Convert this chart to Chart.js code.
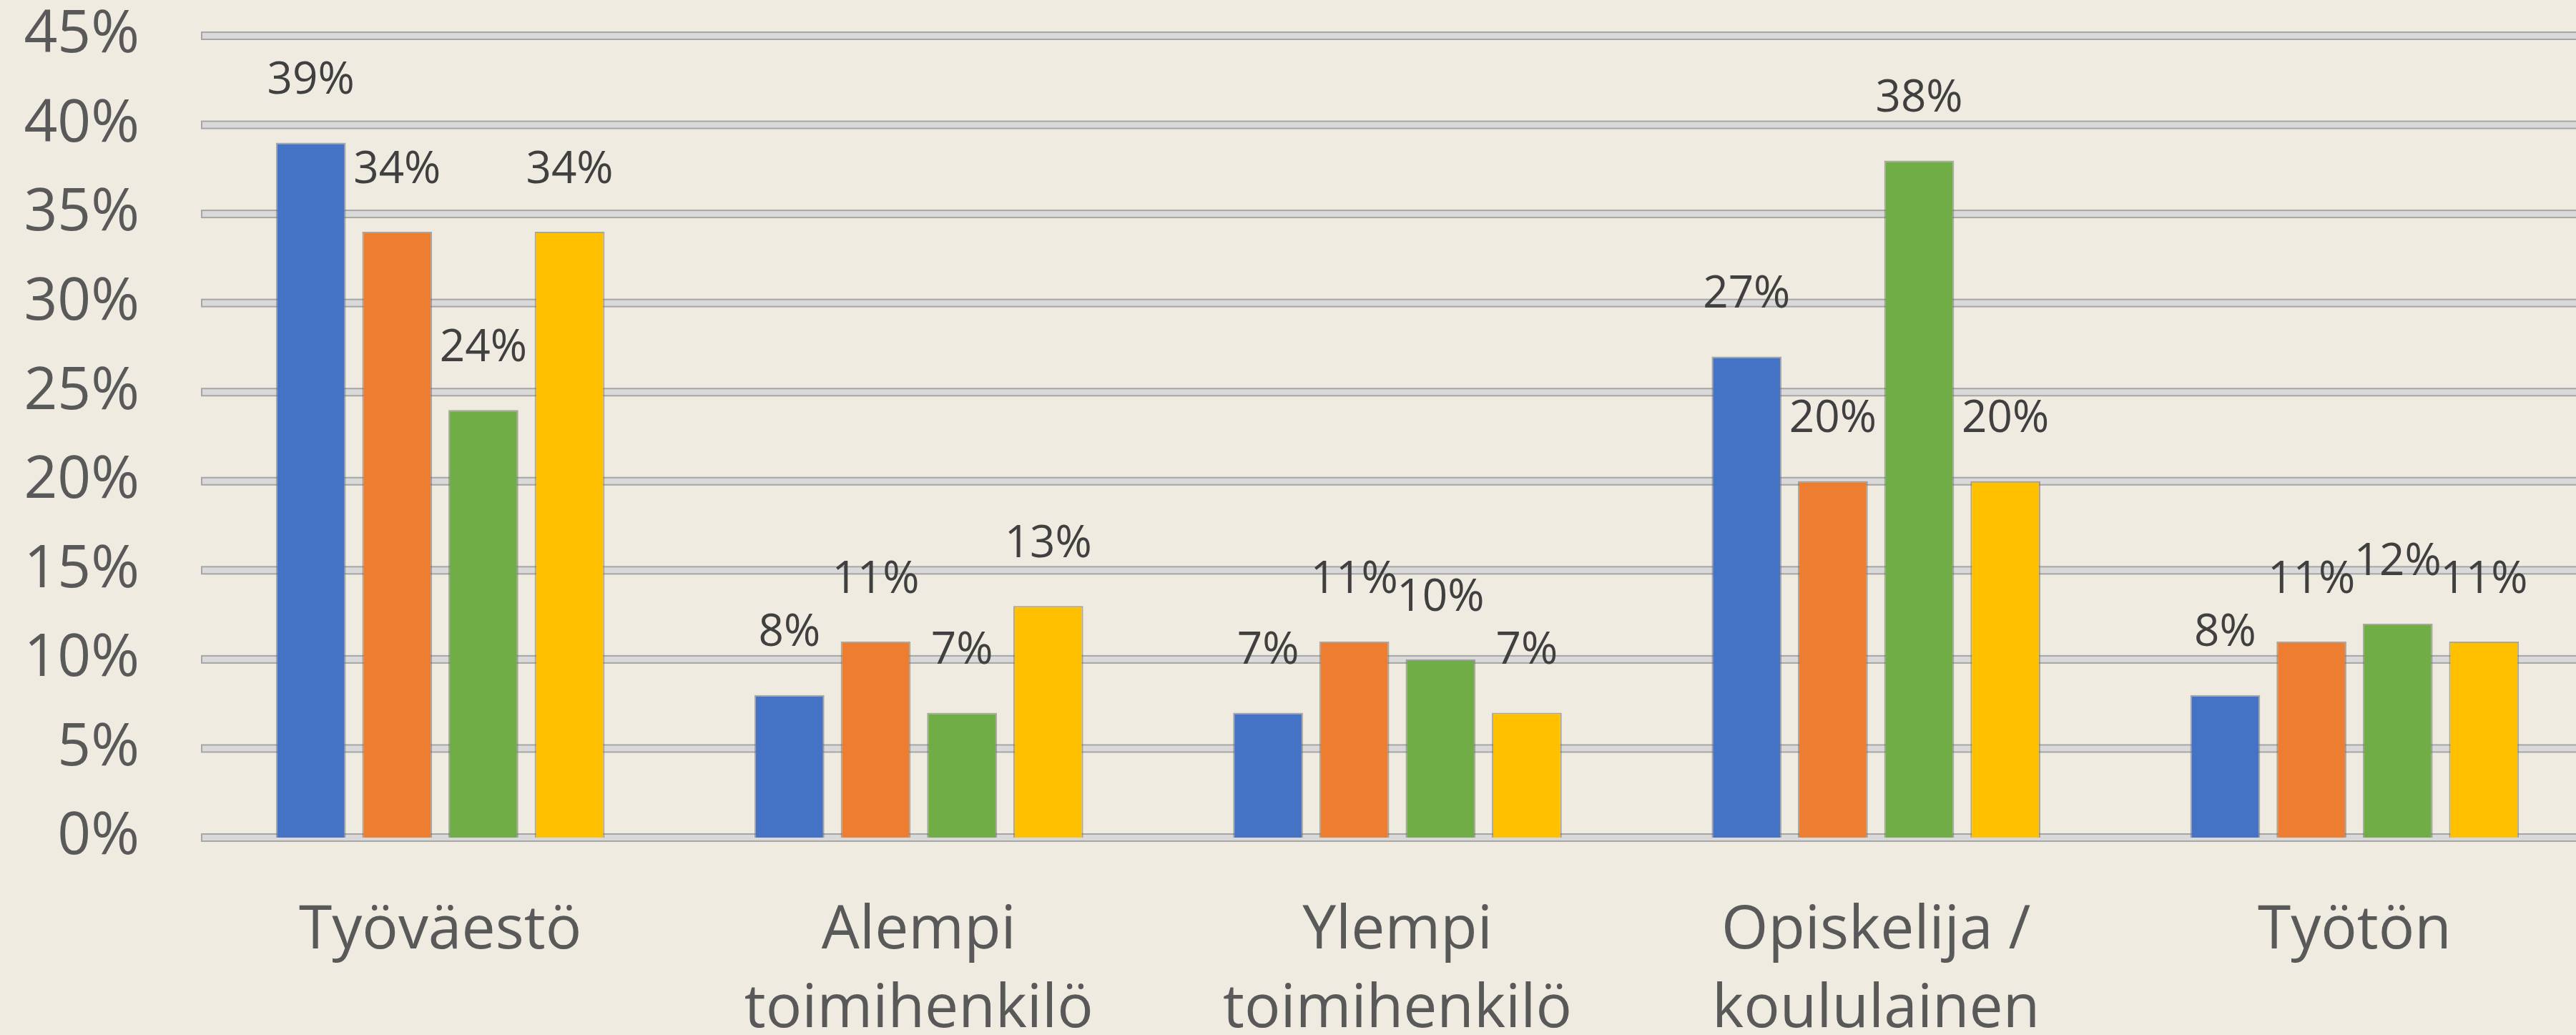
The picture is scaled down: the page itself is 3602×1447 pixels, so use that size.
<!DOCTYPE html>
<html>
<head>
<meta charset="utf-8">
<script src="https://cdn.jsdelivr.net/npm/chart.js@4"></script>
<style>
  html, body { margin: 0; padding: 0; background: #efebe0; overflow: hidden; }
  #wrap { width: 3630px; height: 1470px; }
</style>
</head>
<body>
<div id="wrap"><canvas id="myBarChart" width="3630" height="1470"></canvas></div>
<script>
// chart data
var categories = ["Työväestö", ["Alempi", "toimihenkilö"], ["Ylempi", "toimihenkilö"], ["Opiskelija /", "koululainen"], "Työtön"];
var seriesBlue = [39, 8, 7, 27, 8];
var seriesOrange = [34, 11, 11, 20, 11];
var seriesGreen = [24, 7, 10, 38, 12];
var seriesYellow = [34, 13, 7, 20, 11];
var yTicks = [0, 5, 10, 15, 20, 25, 30, 35, 40, 45];

var FONT = "'Open Sans', 'Liberation Sans', sans-serif";

// thick excel-like gridlines drawn behind the bars
var gridPlugin = {
  id: "thickGrid",
  beforeDatasetsDraw: function (chart) {
    var ctx = chart.ctx;
    var area = chart.chartArea;
    var y = chart.scales.y;
    ctx.save();
    yTicks.forEach(function (v) {
      var py = y.getPixelForValue(v);
      ctx.fillStyle = "#a6a6a6";
      ctx.fillRect(area.left, py - 6, area.right - area.left, 12);
      ctx.fillStyle = "#d9d9d9";
      ctx.fillRect(area.left + 2, py - 4, area.right - area.left, 8);
    });
    ctx.restore();
  },
};

// value labels above each bar
var labelPlugin = {
  id: "valueLabels",
  afterDatasetsDraw: function (chart) {
    var ctx = chart.ctx;
    ctx.save();
    ctx.font = "62px " + FONT;
    ctx.fillStyle = "#404040";
    ctx.textAlign = "center";
    ctx.textBaseline = "middle";
    chart.data.datasets.forEach(function (ds, i) {
      chart.getDatasetMeta(i).data.forEach(function (bar, j) {
        ctx.fillText(ds.data[j] + "%", bar.x, bar.y - 86);
      });
    });
    ctx.restore();
  },
};

function makeSet(label, data, color) {
  return {
    label: label,
    data: data,
    backgroundColor: color,
    borderColor: "rgba(110,110,110,0.55)",
    borderWidth: 2,
    borderSkipped: "bottom",
    barPercentage: 0.81,
    categoryPercentage: 0.721,
  };
}

function createBarChart() {
  var ctx = document.getElementById("myBarChart");
  var myChart = new Chart(ctx, {
    type: "bar",
    data: {
      labels: categories,
      datasets: [
        makeSet("1", seriesBlue, "#4472c4"),
        makeSet("2", seriesOrange, "#ed7d31"),
        makeSet("3", seriesGreen, "#70ad47"),
        makeSet("4", seriesYellow, "#ffc000"),
      ],
    },
    options: {
      responsive: false,
      animation: false,
      layout: { padding: { top: 50, left: 0, right: 3, bottom: 9 } },
      plugins: {
        legend: { display: false },
        tooltip: { enabled: false },
      },
      scales: {
        x: {
          grid: { display: false, drawTicks: false },
          border: { display: false },
          afterFit: function (scale) {
            scale.height = 290;
            scale.paddingLeft = 0;
            scale.paddingRight = 0;
          },
          ticks: {
            color: "#595959",
            font: { family: FONT, size: 84, lineHeight: 1.31 },
            padding: 76,
            maxRotation: 0,
            autoSkip: false,
          },
        },
        y: {
          min: 0,
          max: 45,
          afterBuildTicks: function (scale) {
            scale.ticks = yTicks.map(function (v) { return { value: v }; });
          },
          afterFit: function (scale) {
            scale.width = 281;
            scale.paddingTop = 0;
            scale.paddingBottom = 0;
          },
          grid: { display: false, drawTicks: false },
          border: { display: false },
          ticks: {
            color: "#595959",
            font: { family: FONT, size: 82 },
            padding: 86,
            callback: function (v) { return v + "%"; },
          },
        },
      },
    },
    plugins: [gridPlugin, labelPlugin],
  });
}

createBarChart();
</script>
</body>
</html>
